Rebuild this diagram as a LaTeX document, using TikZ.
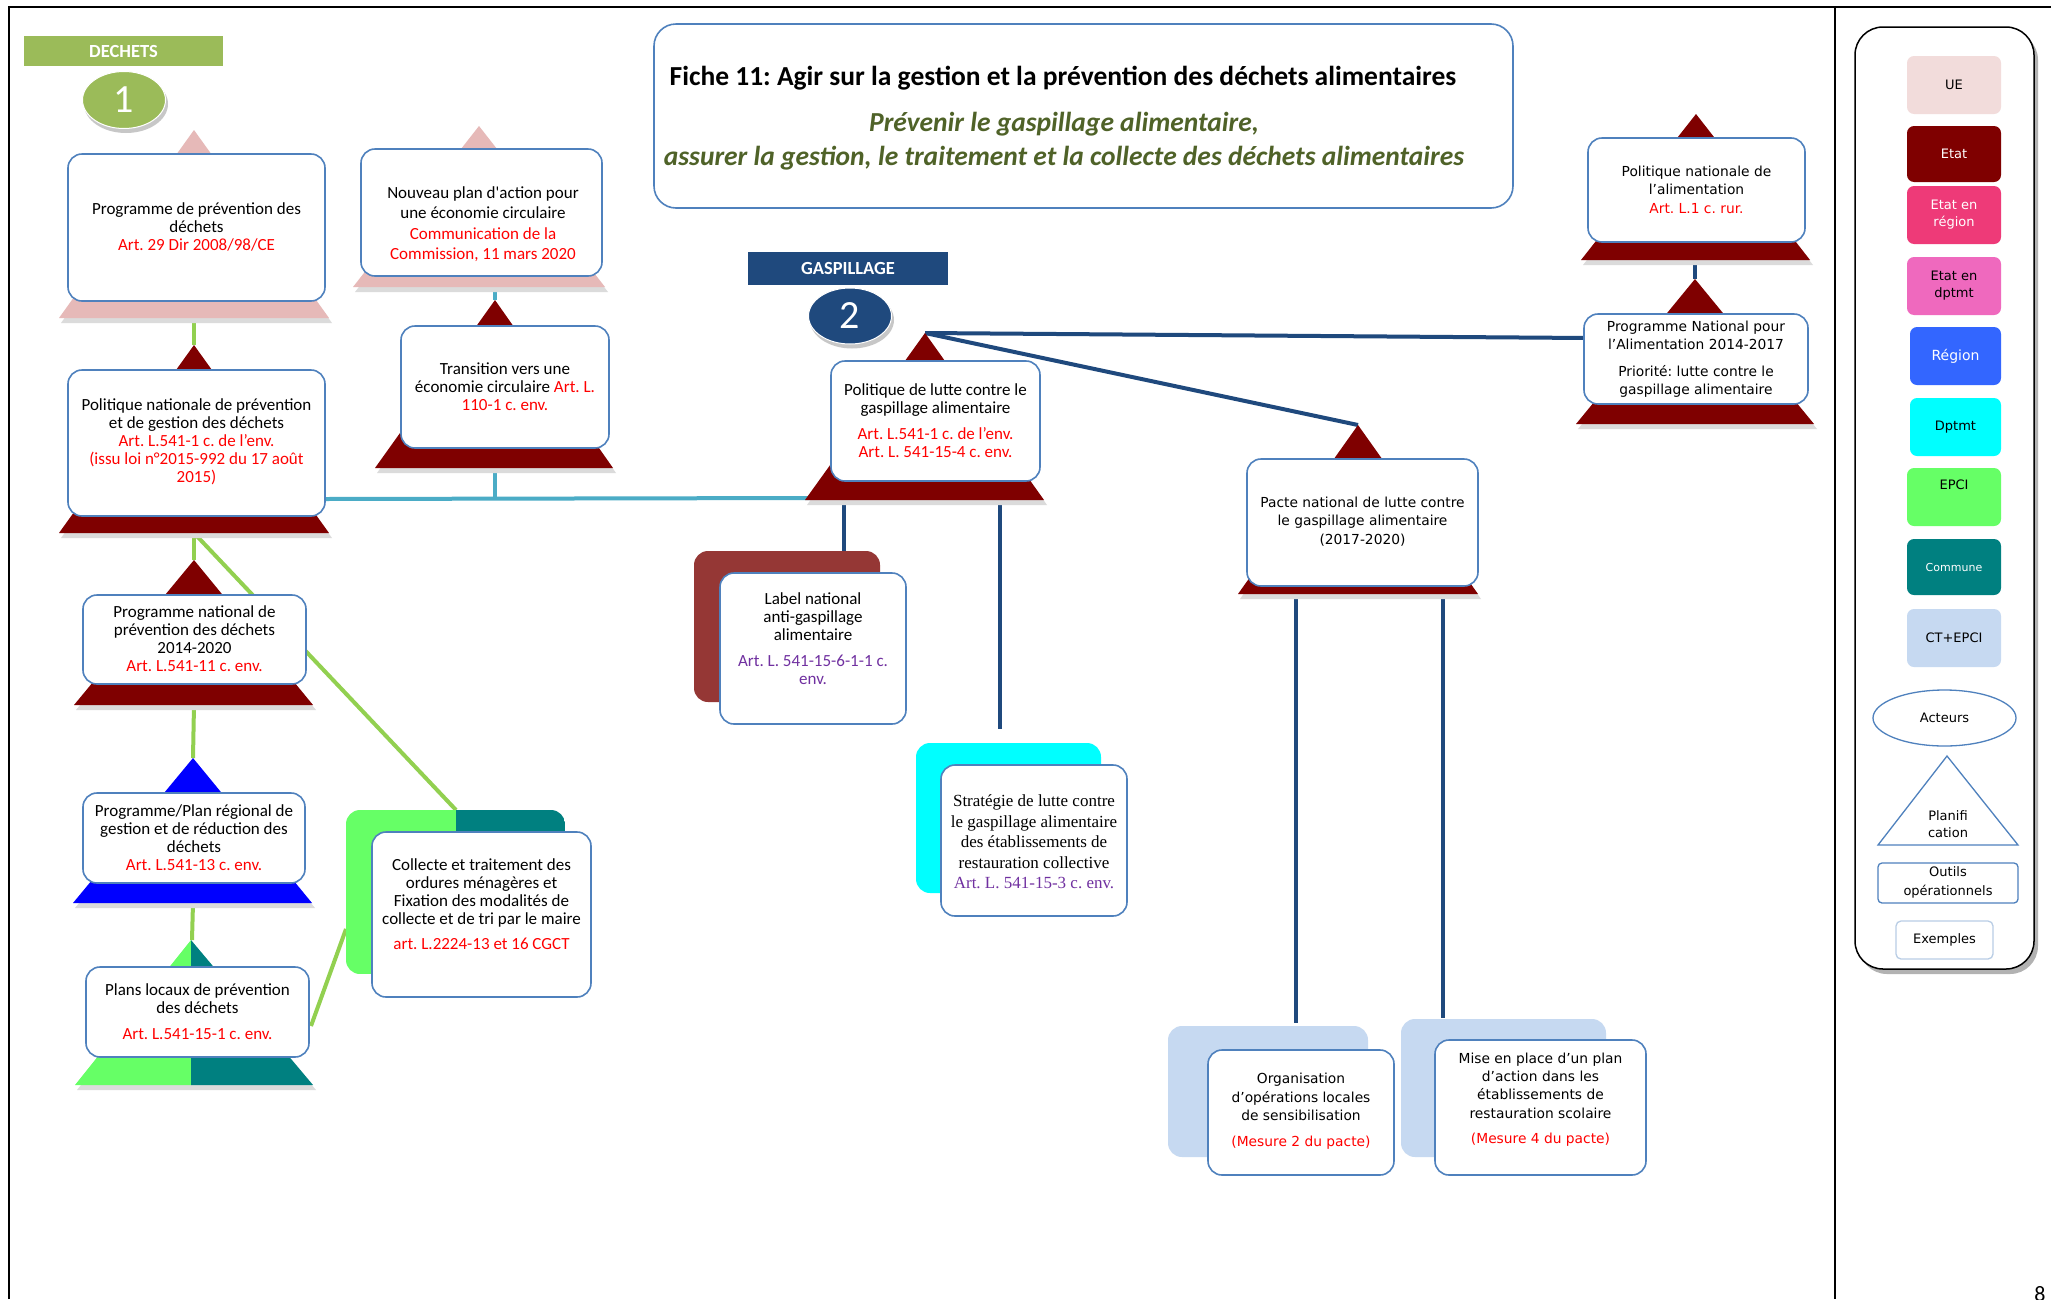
\documentclass[tikz,border=0pt]{standalone}
\usepackage{fontspec}
\setmainfont{Carlito}
\newfontfamily\verd{DejaVu Sans}
\newfontfamily\tnr{Liberation Serif}
\usetikzlibrary{shapes.geometric}
\frenchspacing
\definecolor{boxblue}{HTML}{4F81BD}
\definecolor{artred}{HTML}{FF0000}
\definecolor{artpur}{HTML}{7030A0}
\definecolor{trired}{HTML}{7F0000}
\definecolor{tripink}{HTML}{E6B9B8}
\definecolor{linegreen}{HTML}{92D050}
\definecolor{lineteal}{HTML}{4BACC6}
\definecolor{navy}{HTML}{1F497D}
\definecolor{dgreen}{HTML}{9BBB59}
\definecolor{titlegreen}{HTML}{4F6228}
\definecolor{epcigreen}{HTML}{66FF66}
\definecolor{commteal}{HTML}{008080}
\definecolor{regblue}{HTML}{0000FF}
\definecolor{dptcyan}{HTML}{00FFFF}
\definecolor{labelred}{HTML}{953735}
\definecolor{ctblue}{HTML}{C6D9F1}
\definecolor{uepink}{HTML}{F2DCDB}
\definecolor{etatreg}{HTML}{EE3A78}
\definecolor{etatdep}{HTML}{EF69BE}
\definecolor{regionleg}{HTML}{3366FF}
\definecolor{exblue}{HTML}{B9CDE5}
\newcommand{\rt}[1]{\textcolor{artred}{#1}}
\newcommand{\pu}[1]{\textcolor{artpur}{#1}}
\newcommand{\bx}[6][box]{%
  \pgfmathsetmacro\bxw{#5-#3}\pgfmathsetmacro\bxh{#6-#4}%
  \pgfmathsetmacro\bxcx{(#3+#5)/2}\pgfmathsetmacro\bxcy{(#4+#6)/2}%
  \node[#1, minimum width=\bxw pt, minimum height=\bxh pt] (#2) at (\bxcx,\bxcy) {};}
% triangle with soft shadow: apex x, apex y, base y, left x, right x, colour
\newcommand{\trig}[6]{%
  \fill[black!14] (#1+2,#2+4) -- (#5+3,#3+5) -- (#4+2,#3+5) -- cycle;
  \fill[#6] (#1,#2) -- (#5,#3) -- (#4,#3) -- cycle;}
\tikzset{
  box/.style={draw=boxblue, line width=1.6pt, fill=white, rounded corners=14pt, inner sep=0pt, outer sep=0pt},
  back/.style={rounded corners=14pt, inner sep=0pt, draw=none},
  txt/.style={align=center, inner sep=0pt, font=\fontsize{17}{18}\selectfont},
  vtxt/.style={align=center, inner sep=0pt, font=\verd\fontsize{13.8}{18.4}\selectfont},
  legbox/.style={rounded corners=7pt, inner sep=0pt, align=center, font=\verd\fontsize{13}{17}\selectfont},
  legtxt/.style={inner sep=0pt, align=center, font=\verd\fontsize{13}{17}\selectfont},
  gline/.style={draw=linegreen, line width=4pt},
  tline/.style={draw=lineteal, line width=4pt},
  nline/.style={draw=navy, line width=4pt},
}
\begin{document}
\begin{tikzpicture}[x=1pt,y=-1pt]
\useasboundingbox (0,0) rectangle (2051,1299);
\fill[white] (0,0) rectangle (2051,1299);
% frame
\draw[black, line width=2.5pt] (9,1299) -- (9,7) -- (2051,7);
\draw[black, line width=2pt] (1835,7) -- (1835,1299);

% coordinates
\coordinate (pAb) at (194,318);
\coordinate (pC) at (194,345);
\coordinate (pCb) at (194,533);
\coordinate (pE) at (194,560);
\coordinate (pEb) at (194,705);
\coordinate (pF) at (193,758);
\coordinate (pFb) at (193,903);
\coordinate (pG) at (192,940);
\coordinate (Hbt) at (456,810);
\coordinate (Hbl) at (346,929);
\coordinate (Gr) at (311,1026);
\coordinate (bBs) at (495,276);
\coordinate (pD) at (495,300);
\coordinate (pDb) at (495,468);
\coordinate (tj) at (495,499);
\coordinate (Ce) at (325,499);
\coordinate (pIl) at (815,498);
\coordinate (pI) at (925,333);
\coordinate (pIb1) at (844,500);
\coordinate (pIb2) at (1000,500);
\coordinate (lbT) at (844,551);
\coordinate (sEnd) at (1000,729);
\coordinate (pJ) at (1358,425);
\coordinate (pJb1) at (1296,594);
\coordinate (pJb2) at (1443,594);
\coordinate (kT) at (1296,1023);
\coordinate (lT) at (1443,1018);
\coordinate (pMb) at (1695,260);
\coordinate (pN) at (1695,279);
\coordinate (Nl) at (1586,338);

% connectors
\draw[gline] (pAb) -- (pC);
\draw[gline] (pCb) -- (pE);
\draw[gline] (pCb) -- (Hbt);
\draw[gline] (pEb) -- (pF);
\draw[gline] (pFb) -- (pG);
\draw[gline] (Gr) -- (Hbl);
\draw[tline] (bBs) -- (pD);
\draw[tline] (pDb) -- (tj);
\draw[tline] (Ce) -- (pIl);
\draw[nline] (pI) -- (Nl);
\draw[nline] (pI) -- (pJ);
\draw[nline] (pIb1) -- (lbT);
\draw[nline] (pIb2) -- (sEnd);
\draw[nline] (pMb) -- (pN);
\draw[nline] (pJb1) -- (kT);
\draw[nline] (pJb2) -- (lT);

% triangles (planification)
\trig{194}{130}{318}{59}{329}{tripink}
\trig{479}{126}{287}{353}{605}{tripink}
\trig{194}{345}{533}{59}{329}{trired}
\trig{495}{300}{468}{375}{613}{trired}
\trig{194}{560}{705}{74}{313}{trired}
\trig{193}{758}{903}{73}{312}{regblue}
\fill[black!14] (193,944) -- (316,1090) -- (77,1090) -- cycle;
\fill[epcigreen] (191,940) -- (191,1085) -- (75,1085) -- cycle;
\fill[commteal] (191,940) -- (313,1085) -- (191,1085) -- cycle;
\trig{925}{333}{500}{805}{1044}{trired}
\trig{1358}{425}{594}{1238}{1478}{trired}
\trig{1696}{114}{260}{1581}{1810}{trired}
\trig{1695}{279}{424}{1576}{1814}{trired}

% back shapes (acteurs)
\begin{scope}
\clip[rounded corners=14pt] (346,810) rectangle (565,974);
\fill[epcigreen] (346,810) rectangle (456,974);
\fill[commteal] (456,810) rectangle (565,974);
\end{scope}
\bx[back, fill=labelred]{Lbk}{694}{551}{880}{702}
\bx[back, fill=dptcyan]{Sbk}{916}{743}{1101}{893}
\bx[back, fill=ctblue]{Kbk}{1168}{1026}{1368}{1157}
\bx[back, fill=ctblue]{Lmbk}{1401}{1019}{1606}{1157}

% boxes
\bx{A}{68}{154}{325}{301}
\bx{B}{361}{149}{602}{276}
\bx{C}{68}{370}{325}{516}
\bx{D}{401}{326}{609}{448}
\bx{E}{83}{595}{306}{684}
\bx{F}{83}{793}{305}{883}
\bx{G}{86}{967}{309}{1057}
\bx{H}{372}{832}{591}{997}
\bx{I}{831}{361}{1040}{481}
\bx{Lab}{720}{573}{906}{724}
\bx{S}{941}{765}{1127}{916}
\bx{J}{1247}{459}{1478}{586}
\bx{K}{1208}{1050}{1394}{1175}
\bx{L}{1435}{1040}{1646}{1175}
\bx{M}{1588}{138}{1805}{242}
\bx{N}{1584}{314}{1808}{404}

% texts
\node[txt] (At) at (196.5,226.5) {Programme de prévention des\\déchets\\\rt{Art. 29 Dir 2008/98/CE}};
\node[txt, font=\fontsize{17}{20.5}\selectfont] (Bt) at (483,224) {Nouveau plan d\textquotesingle action pour\\une économie circulaire\\\rt{Communication de la}\\\rt{Commission, 11 mars 2020}};
\node[txt] (Ct) at (196.5,442) {Politique nationale de prévention\\et de gestion des déchets\\\rt{Art. L.541-1 c. de l’env.}\\\rt{(issu loi n°2015-992 du 17 août}\\\rt{2015)}};
\node[txt] (Dt) at (505,387) {Transition vers une\\économie circulaire \rt{Art. L.}\\\rt{110-1 c. env.}};
\node[txt] (Et) at (194.5,639) {Programme national de\\prévention des déchets\\2014-2020\\\rt{Art. L.541-11 c. env.}};
\node[txt] (Ft) at (194,837.5) {Programme/Plan régional de\\gestion et de réduction des\\déchets\\\rt{Art. L.541-13 c. env.}};
\node[txt] (Gt) at (197.5,1012) {Plans locaux de prévention\\des déchets\\[8pt]\rt{Art. L.541-15-1 c. env.}};
\node[txt] (Ht) at (481.5,904.5) {Collecte et traitement des\\ordures ménagères et\\Fixation des modalités de\\collecte et de tri par le maire\\[7pt]\rt{art. L.2224-13 et 16 CGCT}};
\node[txt] (It) at (935.5,421) {Politique de lutte contre le\\gaspillage alimentaire\\[8pt]\rt{Art. L.541-1 c. de l’env.}\\\rt{Art. L. 541-15-4 c. env.}};
\node[txt] (Labt) at (813,639) {Label national\\anti-gaspillage\\alimentaire\\[8pt]\pu{Art. L. 541-15-6-1-1 c.}\\\pu{env.}};
\node[txt, font=\tnr\fontsize{17}{20.5}\selectfont] (St) at (1034,842) {Stratégie de lutte contre\\le gaspillage alimentaire\\des établissements de\\restauration collective\\\pu{Art. L. 541-15-3 c. env.}};
\node[vtxt] (Jt) at (1362.5,521.5) {Pacte national de lutte contre\\le gaspillage alimentaire\\(2017-2020)};
\node[vtxt] (Kt) at (1301,1111.5) {Organisation\\d’opérations locales\\de sensibilisation\\[8pt]\rt{(Mesure 2 du pacte)}};
\node[vtxt] (Lt) at (1540.5,1099.5) {Mise en place d’un plan\\d’action dans les\\établissements de\\restauration scolaire\\[7pt]\rt{(Mesure 4 du pacte)}};
\node[vtxt] (Mt) at (1696.5,189.5) {Politique nationale de\\l’alimentation\\\rt{Art. L.1 c. rur.}};
\node[vtxt] (Nt) at (1696,359) {Programme National pour\\l’Alimentation 2014-2017\\[8pt]Priorité: lutte contre le\\gaspillage alimentaire};

% title
\bx[box, rounded corners=22pt]{T}{654}{24}{1513}{208}
\node[inner sep=0pt, font=\bfseries\fontsize{27.5}{30}\selectfont] (t1) at (1063,78) {Fiche 11: Agir sur la gestion et la prévention des déchets alimentaires};
\node[inner sep=0pt, text=titlegreen, font=\bfseries\itshape\fontsize{27.5}{30}\selectfont] (t2) at (1064,124) {Prévenir le gaspillage alimentaire,};
\node[inner sep=0pt, text=titlegreen, font=\bfseries\itshape\fontsize{27.5}{30}\selectfont] (t3) at (1064,158) {assurer la gestion, le traitement et la collecte des déchets alimentaires};

% banners and numbers
\node[fill=dgreen, minimum width=199pt, minimum height=30pt, inner sep=0pt, text=white, font=\bfseries\fontsize{18.5}{20}\selectfont] (dech) at (123.5,51) {DECHETS};
\node[fill=navy, minimum width=200pt, minimum height=33pt, inner sep=0pt, text=white, font=\bfseries\fontsize{18.5}{20}\selectfont] (gasp) at (848,268.5) {GASPILLAGE};
\node[ellipse, fill=black!22, minimum width=84pt, minimum height=58pt, inner sep=0pt] (c1s) at (126,104) {};
\node[ellipse, fill=dgreen, draw=white, line width=1pt, minimum width=83pt, minimum height=57pt, inner sep=0pt, text=white, font=\fontsize{40}{40}\selectfont] (c1) at (124,100) {1};
\node[ellipse, fill=black!22, minimum width=84pt, minimum height=57pt, inner sep=0pt] (c2s) at (852,320) {};
\node[ellipse, fill=navy, draw=white, line width=1pt, minimum width=83pt, minimum height=56pt, inner sep=0pt, text=white, font=\fontsize{40}{40}\selectfont] (c2) at (850,316) {2};

% legend
\fill[black!30, rounded corners=28pt] (1859,32) rectangle (2038,974);
\draw[black, line width=1.5pt, fill=white, rounded corners=28pt] (1855,27) rectangle (2034,969);
\node[legbox, fill=uepink, minimum width=94pt, minimum height=58pt] (lUE) at (1954,85) {UE};
\node[legbox, fill=trired, text=white, minimum width=94pt, minimum height=56pt] (lEtat) at (1954,154) {Etat};
\node[legbox, fill=etatreg, text=white, minimum width=94pt, minimum height=58pt] (lEreg) at (1954,215) {Etat en\\région};
\node[legbox, fill=etatdep, minimum width=94pt, minimum height=58pt] (lEdep) at (1954,286) {Etat en\\dptmt};
\node[legbox, fill=regionleg, text=white, minimum width=91pt, minimum height=58pt, font=\verd\fontsize{14}{17}\selectfont] (lReg) at (1955.5,356) {Région};
\node[legbox, fill=dptcyan, minimum width=91pt, minimum height=58pt] (lDpt) at (1955.5,427) {Dptmt};
\node[legbox, fill=epcigreen, minimum width=94pt, minimum height=58pt] (lEPCI) at (1954,497) {};
\node[legtxt] (lEPCIt) at (1954,485) {EPCI};
\node[legbox, fill=commteal, text=white, minimum width=94pt, minimum height=56pt, font=\verd\fontsize{11}{13}\selectfont] (lCom) at (1954,567) {Commune};
\node[legbox, fill=ctblue, minimum width=94pt, minimum height=58pt] (lCT) at (1954,638) {CT+EPCI};
\node[ellipse, draw=boxblue, line width=1.3pt, fill=white, minimum width=143pt, minimum height=56pt, inner sep=0pt, font=\verd\fontsize{13}{17}\selectfont] (lAct) at (1944.5,718) {Acteurs};
\draw[boxblue, line width=1.3pt] (1947,756) -- (2018,845) -- (1878,845) -- cycle;
\node[legtxt] (lPlan) at (1948,824) {Planifi\\cation};
\node[draw=boxblue, line width=1.3pt, rounded corners=4pt, minimum width=140pt, minimum height=40pt, inner sep=0pt] (lOut) at (1948,883) {};
\node[legtxt, font=\verd\fontsize{13}{19}\selectfont] (lOutt) at (1948,882) {Outils\\opérationnels};
\node[draw=exblue, line width=1.3pt, rounded corners=5pt, minimum width=97pt, minimum height=38pt, inner sep=0pt, font=\verd\fontsize{13}{17}\selectfont] (lEx) at (1944.5,940) {Exemples};

\node[anchor=north, inner sep=0pt, font=\fontsize{22}{22}\selectfont] (pnum) at (2040,1286) {8};
\end{tikzpicture}
\end{document}
